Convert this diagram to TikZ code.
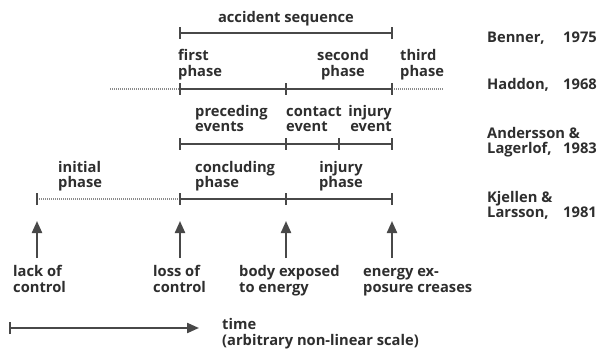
\documentclass[tikz,border=0pt]{standalone}
\usepackage{fontspec}
\setmainfont{Open Sans}
\usetikzlibrary{arrows.meta}
\definecolor{ink}{HTML}{2E2E2E}
\definecolor{rulec}{HTML}{484848}
\definecolor{dotc}{HTML}{8A8A8A}
\begin{document}
\begin{tikzpicture}[x=1pt,y=-1pt,
  lbl/.style={font=\fontsize{14.7}{16}\selectfont\bfseries, text=ink, inner sep=0pt, align=left, anchor=base west},
  tl/.style={draw=rulec, line width=1.8pt},
  tk/.style={draw=rulec, line width=1.5pt},
  dotl/.style={draw=dotc, line width=1.3pt, dash pattern=on 1pt off 1pt},
  uparrow/.style={draw=rulec, line width=2.2pt, -{Triangle[length=12pt,width=10pt]}},
]
\useasboundingbox (0,0) rectangle (600,350);
\fill[white] (0,0) rectangle (600,350);

% ---- Benner line
\coordinate (b1) at (180,33);
\coordinate (b2) at (392,33);
\draw[tl] (b1) -- (b2);
\foreach \p in {b1,b2} \draw[tk] ([yshift=-6pt]\p) -- ([yshift=6pt]\p);
\node[lbl, anchor=base] (acc) at (286,23) {accident sequence};

% ---- Haddon line
\coordinate (h0) at (110,89);
\coordinate (h1) at (180,89);
\coordinate (h2) at (286,89);
\coordinate (h3) at (392,89);
\coordinate (h4) at (443,89);
\draw[dotl] (h0) -- (h1);
\draw[tl] (h1) -- (h3);
\draw[dotl] (h3) -- (h4);
\foreach \p in {h1,h2,h3} \draw[tk] ([yshift=-6pt]\p) -- ([yshift=6pt]\p);
\node[lbl] (first) at (178,77) {first\\phase};
\node[lbl, align=center, anchor=base] (second) at (343,77) {second\\phase};
\node[lbl] (third) at (400,77) {third\\phase};

% ---- Andersson line
\coordinate (a1) at (180,144);
\coordinate (a2) at (286,144);
\coordinate (a3) at (339,144);
\coordinate (a4) at (392,144);
\draw[tl] (a1) -- (a4);
\foreach \p in {a1,a2,a3,a4} \draw[tk] ([yshift=-6pt]\p) -- ([yshift=6pt]\p);
\node[lbl] (prec) at (195,132) {preceding\\events};
\node[lbl] (cont) at (286,132) {contact\\event};
\node[lbl, align=right, anchor=base east] (inj) at (392,132) {injury\\event};

% ---- Kjellen line
\coordinate (k0) at (37,199);
\coordinate (k1) at (180,199);
\coordinate (k2) at (286,199);
\coordinate (k3) at (392,199);
\draw[dotl] (k0) -- (k1);
\draw[tl] (k1) -- (k3);
\foreach \p in {k0,k1,k2,k3} \draw[tk] ([yshift=-6pt]\p) -- ([yshift=6pt]\p);
\node[lbl] (init) at (58,188) {initial\\phase};
\node[lbl] (concl) at (195,188) {concluding\\phase};
\node[lbl, align=center, anchor=base] (injph) at (341,188) {injury\\phase};

% ---- authors
\node[lbl] (benner) at (487,43) {Benner,};
\node[lbl, anchor=base east] (y75) at (597,43) {1975};
\node[lbl] (haddon) at (487,90) {Haddon,};
\node[lbl, anchor=base east] (y68) at (597,90) {1968};
\node[lbl] (anders) at (487,154) {Andersson \&\\Lagerlof,};
\node[lbl, anchor=base east] (y83) at (597,154) {1983};
\node[lbl] (kjell) at (487,218) {Kjellen \&\\Larsson,};
\node[lbl, anchor=base east] (y81) at (597,218) {1981};

% ---- event arrows
\coordinate (e1) at (37,258);  \coordinate (f1) at (37,221);
\coordinate (e2) at (180,258); \coordinate (f2) at (180,221);
\coordinate (e3) at (286,258); \coordinate (f3) at (286,221);
\coordinate (e4) at (392,258); \coordinate (f4) at (392,221);
\foreach \i in {1,2,3,4} \draw[uparrow] (e\i) -- (f\i);
\node[lbl] (lack) at (13,292) {lack of\\control};
\node[lbl] (loss) at (153,292) {loss of\\control};
\node[lbl] (body) at (239,292) {body exposed\\to energy};
\node[lbl] (energy) at (363,292) {energy ex-\\posure creases};

% ---- time arrow
\coordinate (t0) at (10,328);
\coordinate (t1) at (199,328);
\draw[uparrow] (t0) -- (t1);
\draw[tk] ([yshift=-6pt]t0) -- ([yshift=6pt]t0);
\node[lbl] (time) at (222,345) {time\\(arbitrary non-linear scale)};
\end{tikzpicture}
\end{document}
